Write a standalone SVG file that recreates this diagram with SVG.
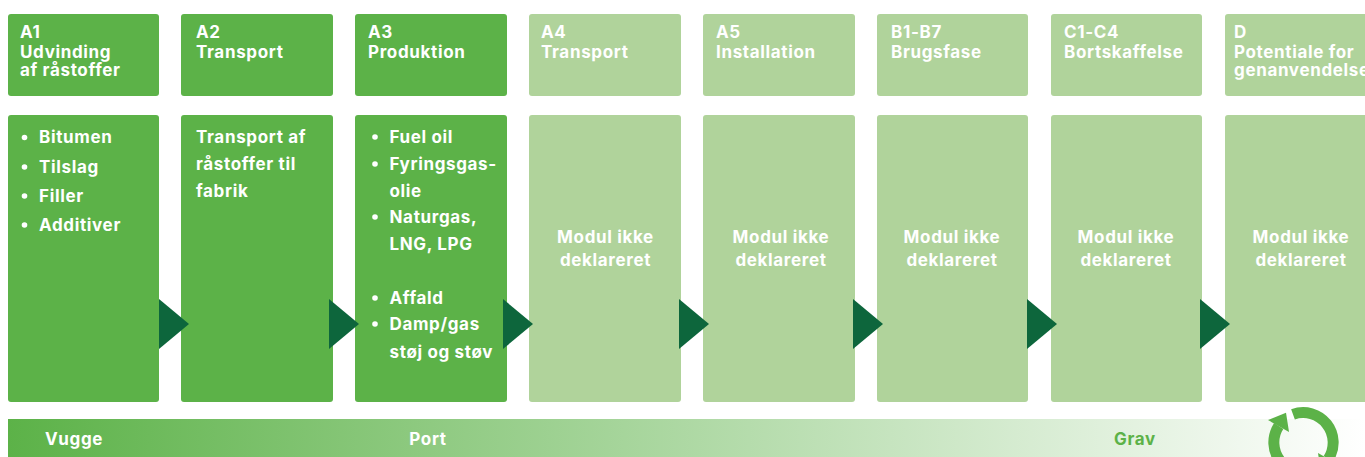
<svg xmlns="http://www.w3.org/2000/svg" width="1365" height="457" viewBox="0 0 1365 457">
<style>
text{font-family:"Inter","Liberation Sans",sans-serif;font-weight:700;fill:#fff}
.h{font-size:17px;letter-spacing:.65px}
.b{font-size:17px;letter-spacing:.65px}
.c{text-anchor:middle}
.d{fill:#5cb248}.l{fill:#b0d39b}
.a{fill:#0d663c}
.ring{fill:none;stroke:#5cb248;stroke-width:11}
</style>
<defs><linearGradient id="g" x1="0" x2="1" y1="0" y2="0"><stop offset="0" stop-color="#5cb248"/><stop offset="1" stop-color="#fff"/></linearGradient></defs>
<g id="bar"><rect x="8" y="419" width="1357" height="38" fill="url(#g)"/>
<text class="b c" x="74" y="445">Vugge</text><text class="b c" x="428" y="445">Port</text><text class="b c" x="1135" y="445" style="fill:#5cb248">Grav</text></g>
<g id="A1"><rect class="d" x="8" y="14" width="151" height="82" rx="3"/><text class="h" x="20" y="38">A1</text><text class="h" x="20" y="58">Udvinding</text><text class="h" x="20" y="76">af råstoffer</text></g>
<g id="A2"><rect class="d" x="181" y="14" width="152" height="82" rx="3"/><text class="h" x="196" y="38">A2</text><text class="h" x="196" y="58">Transport</text></g>
<g id="A3"><rect class="d" x="355" y="14" width="152" height="82" rx="3"/><text class="h" x="368" y="38">A3</text><text class="h" x="368" y="58">Produktion</text></g>
<g id="A4"><rect class="l" x="529" y="14" width="152" height="82" rx="3"/><text class="h" x="541" y="38">A4</text><text class="h" x="541" y="58">Transport</text></g>
<g id="A5"><rect class="l" x="703" y="14" width="152" height="82" rx="3"/><text class="h" x="716" y="38">A5</text><text class="h" x="716" y="58">Installation</text></g>
<g id="B1-B7"><rect class="l" x="877" y="14" width="151" height="82" rx="3"/><text class="h" x="891" y="38">B1-B7</text><text class="h" x="891" y="58">Brugsfase</text></g>
<g id="C1-C4"><rect class="l" x="1051" y="14" width="151" height="82" rx="3"/><text class="h" x="1064" y="38">C1-C4</text><text class="h" x="1064" y="58">Bortskaffelse</text></g>
<g id="D"><rect class="l" x="1225" y="14" width="152" height="82" rx="3"/><text class="h" x="1234" y="38">D</text><text class="h" x="1234" y="58">Potentiale for</text><text class="h" x="1234" y="76">genanvendelse</text></g>
<g id="A1-body"><rect class="d" x="8" y="115" width="151" height="287" rx="3"/>
<g id="A1-items"><circle cx="24.500" cy="137.500" r="2.800" fill="#fff"/><text class="b" x="39" y="143">Bitumen</text><circle cx="24.500" cy="167" r="2.800" fill="#fff"/><text class="b" x="39" y="173">Tilslag</text><circle cx="24.500" cy="196" r="2.800" fill="#fff"/><text class="b" x="39" y="202">Filler</text><circle cx="24.500" cy="225" r="2.800" fill="#fff"/><text class="b" x="39" y="231">Additiver</text></g></g>
<g id="A2-body"><rect class="d" x="181" y="115" width="152" height="287" rx="3"/><text class="b" x="196" y="143">Transport af</text><text class="b" x="196" y="170">råstoffer til</text><text class="b" x="196" y="197">fabrik</text></g>
<g id="A3-body"><rect class="d" x="355" y="115" width="152" height="287" rx="3"/>
<circle cx="375" cy="137" r="2.800" fill="#fff"/><text class="b" x="389.500" y="143">Fuel oil</text><circle cx="375" cy="164" r="2.800" fill="#fff"/><text class="b" x="389.500" y="170">Fyringsgas-</text><text class="b" x="389.500" y="197">olie</text><circle cx="375" cy="217" r="2.800" fill="#fff"/><text class="b" x="389.500" y="223">Naturgas,</text><text class="b" x="389.500" y="250">LNG, LPG</text><circle cx="375" cy="298" r="2.800" fill="#fff"/><text class="b" x="389.500" y="304">Affald</text><circle cx="375" cy="324" r="2.800" fill="#fff"/><text class="b" x="389.500" y="330">Damp/gas</text><text class="b" x="389.500" y="358">støj og støv</text></g>
<g id="A4-body"><rect class="l" x="529" y="115" width="152" height="287" rx="3"/><text class="b c" x="605.500" y="243">Modul ikke</text><text class="b c" x="605.500" y="266">deklareret</text></g>
<g id="A5-body"><rect class="l" x="703" y="115" width="152" height="287" rx="3"/><text class="b c" x="781" y="243">Modul ikke</text><text class="b c" x="781" y="266">deklareret</text></g>
<g id="B-body"><rect class="l" x="877" y="115" width="151" height="287" rx="3"/><text class="b c" x="952" y="243">Modul ikke</text><text class="b c" x="952" y="266">deklareret</text></g>
<g id="C-body"><rect class="l" x="1051" y="115" width="151" height="287" rx="3"/><text class="b c" x="1126" y="243">Modul ikke</text><text class="b c" x="1126" y="266">deklareret</text></g>
<g id="D-body"><rect class="l" x="1225" y="115" width="152" height="287" rx="3"/><text class="b c" x="1301" y="243">Modul ikke</text><text class="b c" x="1301" y="266">deklareret</text></g>
<g id="connectors">
<polygon class="a" points="159,299 189,324 159,349"/><polygon class="a" points="329,299 359,324 329,349"/><polygon class="a" points="503,299 533,324 503,349"/><polygon class="a" points="679,299 709,324 679,349"/><polygon class="a" points="853,299 883,324 853,349"/><polygon class="a" points="1027,299 1057,324 1027,349"/><polygon class="a" points="1200,299 1230,324 1200,349"/>
</g>
<g id="recycle"><path class="ring" d="M1293 414.400A30 30 0 0 1 1328.300 459"/><path class="ring" d="M1314 470.600A30 30 0 0 1 1278.700 426"/><polygon class="d" points="1268,420 1286,412.700 1289,432"/><polygon class="d" points="1339,465 1321,472.300 1318,453"/></g>
</svg>
